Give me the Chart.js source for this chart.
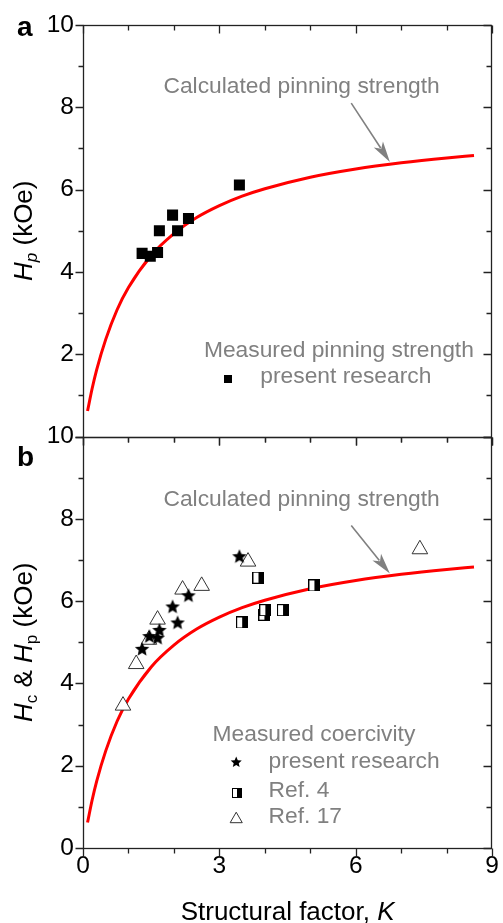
<!DOCTYPE html>
<html>
<head>
<meta charset="utf-8">
<script src="https://cdn.jsdelivr.net/npm/chart.js@4"></script>
<style>
  html, body { margin: 0; padding: 0; background: #fff; }
  canvas { display: block; }
</style>
</head>
<body>
<canvas id="chart" width="503" height="923"></canvas>
<script>
// calculated pinning strength curve
const curveK = [0.1, 0.2, 0.3, 0.5, 0.75, 1.0, 1.5, 2.0, 2.5, 3.0, 3.5, 4.0, 5.0, 6.0, 7.0, 8.0, 8.6];
const curveH = [0.62, 1.16, 1.62, 2.36, 3.08, 3.62, 4.40, 4.93, 5.32, 5.61, 5.84, 6.02, 6.30, 6.50, 6.65, 6.77, 6.83];

// panel a: measured pinning strength (present research)
const hpK = [1.30, 1.48, 1.64, 1.68, 1.97, 2.08, 2.32, 3.44];
const hpVal = [4.45, 4.38, 4.47, 5.00, 5.38, 5.00, 5.30, 6.11];

// panel b: measured coercivity
const starK = [1.30, 1.46, 1.64, 1.68, 1.97, 2.08, 2.32, 3.44];
const starH = [4.84, 5.15, 5.11, 5.30, 5.87, 5.48, 6.14, 7.09];
const ref4K = [3.50, 3.86, 3.99, 4.01, 4.40, 5.09];
const ref4H = [5.48, 6.57, 5.67, 5.78, 5.78, 6.38];
const ref17K = [0.88, 1.17, 1.45, 1.64, 2.19, 2.61, 3.63, 7.41];
const ref17H = [3.46, 4.47, 5.06, 5.55, 6.28, 6.37, 6.96, 7.26];

const xTickStep = 3;
const yTickStep = 2;

const FONT = "'Liberation Sans', Arial, sans-serif";
const GRAY = '#808080';

function pts(xs, ys) {
  return xs.map((x, i) => ({ x: x, y: ys[i] }));
}

function makeStar(r) {
  const s = Math.ceil(r * 2) + 2;
  const c = document.createElement('canvas');
  c.width = s; c.height = s;
  const g = c.getContext('2d');
  drawStar(g, s / 2, s / 2 + 0.5, r);
  return c;
}
function drawStar(g, cx, cy, r) {
  g.beginPath();
  for (let i = 0; i < 10; i++) {
    const rad = i % 2 === 0 ? r : r * 0.46;
    const a = -Math.PI / 2 + i * Math.PI / 5;
    g.lineTo(cx + rad * Math.cos(a), cy + rad * Math.sin(a));
  }
  g.closePath();
  g.fillStyle = '#000';
  g.fill();
}
function makeHalfSquare(size) {
  const c = document.createElement('canvas');
  c.width = size + 1; c.height = size + 1;
  const g = c.getContext('2d');
  drawHalfSquare(g, 0.5, 0.5, size);
  return c;
}
function drawHalfSquare(g, x, y, size) {
  g.fillStyle = '#fff';
  g.fillRect(x, y, size, size);
  g.fillStyle = '#000';
  g.fillRect(x + size / 2, y, size / 2, size);
  g.strokeStyle = '#000';
  g.lineWidth = 1;
  g.strokeRect(x, y, size, size);
}

// text with mixed fonts (italic symbols, subscripts)
function richWidth(ctx, parts) {
  let w = 0;
  for (const p of parts) { ctx.font = p.font; w += ctx.measureText(p.t).width; }
  return w;
}
function drawRich(ctx, parts, x, y) {
  let cx = x;
  for (const p of parts) {
    ctx.font = p.font;
    ctx.fillText(p.t, cx, y + (p.dy || 0));
    cx += ctx.measureText(p.t).width;
  }
}

function arrow(ctx, x1, y1, x2, y2) {
  const ang = Math.atan2(y2 - y1, x2 - x1);
  const len = 21, half = 5.5;
  ctx.strokeStyle = GRAY;
  ctx.fillStyle = GRAY;
  ctx.lineWidth = 1.6;
  ctx.beginPath();
  ctx.moveTo(x1, y1);
  ctx.lineTo(x2 - Math.cos(ang) * len * 0.8, y2 - Math.sin(ang) * len * 0.8);
  ctx.stroke();
  ctx.beginPath();
  ctx.moveTo(x2, y2);
  ctx.lineTo(x2 - Math.cos(ang) * len - Math.sin(ang) * half, y2 - Math.sin(ang) * len + Math.cos(ang) * half);
  ctx.lineTo(x2 - Math.cos(ang) * len * 0.75, y2 - Math.sin(ang) * len * 0.75);
  ctx.lineTo(x2 - Math.cos(ang) * len + Math.sin(ang) * half, y2 - Math.sin(ang) * len - Math.cos(ang) * half);
  ctx.closePath();
  ctx.fill();
}

const decor = {
  id: 'decor',
  afterDraw(chart) {
    const ctx = chart.ctx;
    const a = chart.chartArea;
    const sx = chart.scales.x, yT = chart.scales.yTop, yB = chart.scales.yBot;
    const L = Math.round(a.left) + 0.5, R = Math.round(a.right) - 0.5;
    ctx.save();
    ctx.strokeStyle = '#222';
    ctx.lineWidth = 1.3;
    // frames and ticks for both panels
    for (const ys of [yT, yB]) {
      const top = Math.round(ys.getPixelForValue(10)) + 0.5;
      const bot = Math.round(ys.getPixelForValue(0)) + 0.5;
      ctx.strokeRect(L, top, R - L, bot - top);
      ctx.beginPath();
      for (let v = 0; v <= 10; v++) {
        const py = Math.round(ys.getPixelForValue(v)) + 0.5;
        const len = v % 2 === 0 ? 8 : 5;
        ctx.moveTo(L, py); ctx.lineTo(L - len, py);
        ctx.moveTo(R, py); ctx.lineTo(R - len, py);
      }
      for (let k = 0; k <= 9; k++) {
        const px = Math.round(sx.getPixelForValue(k)) + 0.5;
        const len = k % 3 === 0 ? 8 : 5;
        ctx.moveTo(px, top); ctx.lineTo(px, top + len);
        ctx.moveTo(px, bot); ctx.lineTo(px, bot + len);
      }
      ctx.stroke();
    }

    // annotations
    const txt = '22.8px ' + FONT;
    ctx.fillStyle = GRAY;
    ctx.textAlign = 'left';
    ctx.textBaseline = 'alphabetic';
    ctx.font = txt;
    ctx.fillText('Calculated pinning strength', sx.getPixelForValue(1.77), yT.getPixelForValue(8.35));
    ctx.fillText('Calculated pinning strength', sx.getPixelForValue(1.77), yB.getPixelForValue(8.30));
    arrow(ctx, sx.getPixelForValue(5.9), yT.getPixelForValue(8.1), sx.getPixelForValue(6.75), yT.getPixelForValue(6.67));
    arrow(ctx, sx.getPixelForValue(5.9), yB.getPixelForValue(7.84), sx.getPixelForValue(6.75), yB.getPixelForValue(6.67));

    // legend panel a
    ctx.fillStyle = GRAY;
    ctx.font = txt;
    ctx.fillText('Measured pinning strength', sx.getPixelForValue(2.66), yT.getPixelForValue(1.93));
    ctx.fillText('present research', sx.getPixelForValue(3.90), yT.getPixelForValue(1.29));
    ctx.fillStyle = '#000';
    const lx = sx.getPixelForValue(3.19), ly = yT.getPixelForValue(1.40);
    ctx.fillRect(Math.round(lx - 4), Math.round(ly - 4), 8, 8);

    // legend panel b
    ctx.fillStyle = GRAY;
    ctx.fillText('Measured coercivity', sx.getPixelForValue(2.85), yB.getPixelForValue(2.60));
    ctx.fillText('present research', sx.getPixelForValue(4.08), yB.getPixelForValue(1.94));
    ctx.fillText('Ref. 4', sx.getPixelForValue(4.08), yB.getPixelForValue(1.24));
    ctx.fillText('Ref. 17', sx.getPixelForValue(4.08), yB.getPixelForValue(0.60));
    const mx = sx.getPixelForValue(3.37);
    drawStar(ctx, mx, yB.getPixelForValue(2.08), 5.8);
    const hy = yB.getPixelForValue(1.36);
    drawHalfSquare(ctx, Math.round(mx - 4.5) + 0.5, Math.round(hy - 4.5) + 0.5, 9);
    const ty = yB.getPixelForValue(0.70);
    ctx.strokeStyle = '#333';
    ctx.lineWidth = 1;
    ctx.beginPath();
    ctx.moveTo(mx, ty - 7);
    ctx.lineTo(mx + 6.06, ty + 3.5);
    ctx.lineTo(mx - 6.06, ty + 3.5);
    ctx.closePath();
    ctx.stroke();

    // panel letters
    ctx.fillStyle = '#000';
    ctx.font = 'bold 28px ' + FONT;
    ctx.fillText('a', 17, 36);
    ctx.fillText('b', 17, 466);

    // axis titles
    const big = '26px ' + FONT, bigI = 'italic 26px ' + FONT;
    const sub = '17px ' + FONT, subI = 'italic 17px ' + FONT;
    const xt = [{ t: 'Structural factor, ', font: big }, { t: 'K', font: bigI }];
    const xw = richWidth(ctx, xt);
    drawRich(ctx, xt, (a.left + a.right) / 2 - xw / 2, 920);

    const tTop = [{ t: 'H', font: bigI }, { t: 'p', font: subI, dy: 5 }, { t: ' (kOe)', font: big }];
    const tBot = [{ t: 'H', font: bigI }, { t: 'c', font: sub, dy: 5 }, { t: ' & ', font: big },
                  { t: 'H', font: bigI }, { t: 'p', font: sub, dy: 5 }, { t: ' (kOe)', font: big }];
    for (const [parts, ys] of [[tTop, yT], [tBot, yB]]) {
      const w = richWidth(ctx, parts);
      ctx.save();
      ctx.translate(32, (ys.top + ys.bottom) / 2);
      ctx.rotate(-Math.PI / 2);
      drawRich(ctx, parts, -w / 2, 0);
      ctx.restore();
    }
    ctx.restore();
  }
};

const tickFont = { family: FONT, size: 24.5 };

new Chart(document.getElementById('chart'), {
  type: 'scatter',
  data: {
    datasets: [
      {
        label: 'present research (Hc)',
        data: pts(starK, starH),
        yAxisID: 'yBot',
        pointStyle: makeStar(7.6),
        order: 0
      },
      {
        label: 'Ref. 4',
        data: pts(ref4K, ref4H),
        yAxisID: 'yBot',
        pointStyle: makeHalfSquare(11),
        order: 2
      },
      {
        label: 'Ref. 17',
        data: pts(ref17K, ref17H),
        yAxisID: 'yBot',
        pointStyle: 'triangle',
        pointRadius: 9,
        backgroundColor: '#fff',
        borderColor: '#333',
        borderWidth: 1,
        order: 1
      },
      {
        label: 'present research (Hp)',
        data: pts(hpK, hpVal),
        yAxisID: 'yTop',
        pointStyle: 'rect',
        pointRadius: 7.8,
        backgroundColor: '#000',
        borderColor: '#000',
        borderWidth: 0,
        order: 0
      },
      {
        label: 'Calculated pinning strength (a)',
        data: pts(curveK, curveH),
        yAxisID: 'yTop',
        showLine: true,
        borderColor: '#ff0000',
        borderWidth: 3,
        pointRadius: 0,
        cubicInterpolationMode: 'monotone',
        order: 5
      },
      {
        label: 'Calculated pinning strength (b)',
        data: pts(curveK, curveH),
        yAxisID: 'yBot',
        showLine: true,
        borderColor: '#ff0000',
        borderWidth: 3,
        pointRadius: 0,
        cubicInterpolationMode: 'monotone',
        order: 5
      }
    ]
  },
  options: {
    responsive: false,
    animation: false,
    devicePixelRatio: 1,
    layout: { padding: { top: 25, right: 8, bottom: 0, left: 0 } },
    plugins: { legend: { display: false }, tooltip: { enabled: false } },
    scales: {
      x: {
        type: 'linear', min: 0, max: 9,
        ticks: { stepSize: xTickStep, font: tickFont, color: '#000', padding: 4, maxRotation: 0 },
        grid: { display: false, drawTicks: false },
        border: { display: false },
        afterFit(s) { s.height = 75; }
      },
      // declared bottom first: chart.js stacks the later left axis on top
      yBot: {
        type: 'linear', position: 'left', stack: 'panels', stackWeight: 1,
        min: 0, max: 10,
        ticks: { stepSize: yTickStep, font: tickFont, color: '#000', padding: 9 },
        grid: { display: false, drawTicks: false },
        border: { display: false },
        afterFit(s) { s.width = 83; }
      },
      yTop: {
        type: 'linear', position: 'left', stack: 'panels', stackWeight: 1,
        min: 0, max: 10,
        ticks: { stepSize: yTickStep, font: tickFont, color: '#000', padding: 9,
                 callback: v => (v === 0 ? '' : v) },
        grid: { display: false, drawTicks: false },
        border: { display: false },
        afterFit(s) { s.width = 83; }
      }
    }
  },
  plugins: [decor]
});
</script>
</body>
</html>
